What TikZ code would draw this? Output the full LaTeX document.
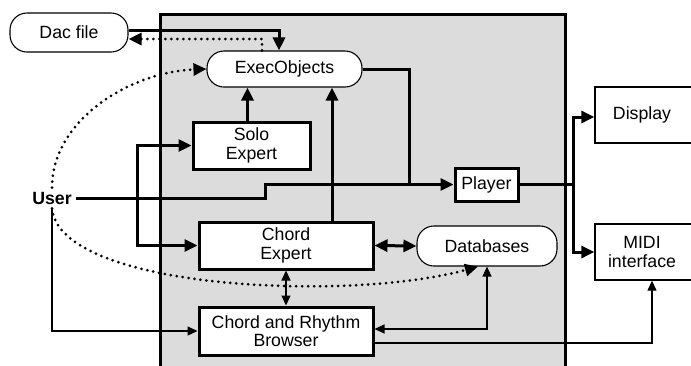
\documentclass[tikz,border=0pt]{standalone}
\usepackage{fontspec}
\setmainfont{Liberation Sans}
\usetikzlibrary{arrows.meta}
\definecolor{panelgray}{RGB}{220,220,220}
\tikzset{
  tip/.tip={Triangle[length=13pt,width=12pt]},
  smalltip/.tip={Triangle[length=10pt,width=9pt]},
  boxthick/.style={draw,line width=3pt,fill=white,inner sep=0pt,align=center},
  boxthin/.style={draw,line width=1.3pt,fill=white,inner sep=0pt,align=center},
  roundthin/.style={draw,line width=1.1pt,fill=white,inner sep=0pt,rounded corners=17pt,align=center},
  thk/.style={line width=3pt},
  thn/.style={line width=1.2pt},
  dotline/.style={line width=3pt,dash pattern=on 0pt off 6pt,line cap=round},
}
\begin{document}
\begin{tikzpicture}[x=1pt,y=-1pt,font=\fontsize{17.7}{18.5}\selectfont]
\useasboundingbox (0,0) rectangle (691,365);
% panel
\draw[line width=3pt,fill=panelgray] (160,14) rectangle (565,380);
% nodes
\node[roundthin,minimum width=118pt,minimum height=39pt] (dac) at (69,32.5) {Dac file};
\node[roundthin,minimum width=155pt,minimum height=36pt] (exec) at (284.5,69) {ExecObjects};
\node[boxthick,minimum width=117pt,minimum height=47pt] (solo) at (251.5,145.5) {Solo\\Expert};
\node[boxthick,minimum width=174pt,minimum height=47pt] (chord) at (286,245.5) {Chord\\Expert};
\node[boxthick,minimum width=174pt,minimum height=48pt] (browser) at (286,331) {Chord and Rhythm\\Browser};
\node[roundthin,minimum width=140pt,minimum height=40pt] (db) at (487,246) {Databases};
\node[boxthick,minimum width=63pt,minimum height=33pt] (player) at (486.5,184.5) {Player};
\node[boxthin,minimum width=100pt,minimum height=56pt] (disp) at (645,115) {\hspace*{-6pt}Display};
\node[boxthin,minimum width=100pt,minimum height=56pt] (midi) at (645,252) {\hspace*{-6pt}MIDI\\\hspace*{-6pt}interface};
\node[inner sep=4pt,font=\fontsize{17.7}{18.5}\selectfont\bfseries] (user) at (52,198) {User};
\coordinate (br) at (137,198);
\coordinate (j) at (409,184.5);
\coordinate (pj) at (573,184.5);
% connectors
\draw[thk,-tip] ([yshift=2.5pt]dac.east) -| ([xshift=-5.5pt]exec.north);
\draw[dotline,-tip] ([xshift=-22.5pt]exec.north) |- ([yshift=-6.5pt]dac.east);
\draw[thk,-tip] (user.east) -- ++(190,0) |- (player.west);
\draw[thk,-tip] (br) |- (solo.west);
\draw[thk,-tip] (br) |- (chord.west);
\draw[thk,-tip] ([xshift=-4pt]solo.north) -- ([xshift=-4pt]solo.north |- exec.south);
\draw[thk,-tip] ([xshift=46pt]chord.north) -- ([xshift=46pt]chord.north |- exec.south);
\draw[thk] (exec.east) -| (j);
\draw[thk,tip-tip] (chord.east) -- (db.west);
\draw[thn,smalltip-smalltip] (chord.south) -- (browser.north);
\draw[thn,smalltip-smalltip] (db.south) |- ([yshift=2pt]browser.east);
\draw[thn,-smalltip] ([yshift=-12pt]browser.east) -| ([xshift=7pt]midi.south);
\draw[thn,-smalltip] (user.south) |- (browser.west);
\draw[thk] (player.east) -- (pj);
\draw[thk,-tip] (pj) |- ([yshift=-2pt]disp.west);
\draw[thk,-tip] (pj) |- (midi.west);
\draw[dotline,-tip] (user.north) .. controls (52,120) and (130,72) .. (exec.west);
\draw[dotline,-tip] (user.south) .. controls (60,290) and (350,302) .. ([xshift=-9pt]db.south);
\end{tikzpicture}
\end{document}
